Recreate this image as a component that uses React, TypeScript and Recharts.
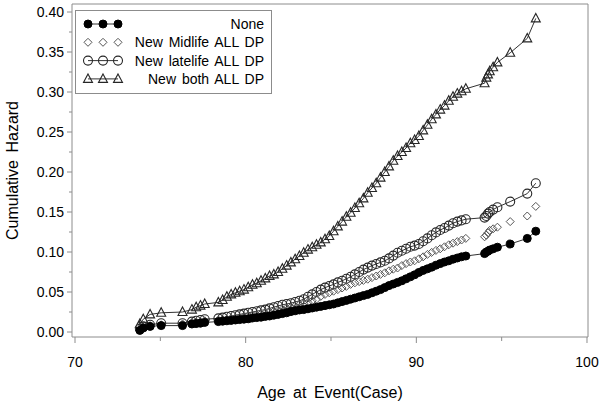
import React from 'react';
import { LineChart, Line, XAxis, YAxis, ReferenceArea } from 'recharts';

// event ages (shared by the four groups)
const ages = [
  73.8, 74.0, 74.4, 75.05, 76.3, 76.85, 77.1, 77.35, 77.6,
  78.4, 78.65, 78.9, 79.15, 79.4, 79.65, 79.9, 80.15, 80.4, 80.65,
  80.9, 81.15, 81.4, 81.65, 81.9, 82.15, 82.4, 82.65, 82.9, 83.15,
  83.4, 83.65, 83.9, 84.15, 84.4, 84.65, 84.9, 85.15, 85.4, 85.65,
  85.9, 86.15, 86.4, 86.65, 86.9, 87.15, 87.4, 87.65, 87.9, 88.15,
  88.4, 88.65, 88.9, 89.15, 89.4, 89.65, 89.9, 90.15, 90.4, 90.65,
  90.9, 91.15, 91.4, 91.65, 91.9, 92.15, 92.4, 92.65, 92.9,
  94.0, 94.1, 94.2, 94.3, 94.5, 94.75, 95.5, 96.5, 97.0,
];

const noneHaz = [
  0.002, 0.005, 0.007, 0.008, 0.008, 0.010, 0.0105, 0.011, 0.012,
  0.013, 0.0135, 0.014, 0.0145, 0.015, 0.0155, 0.016, 0.0165, 0.0175, 0.018,
  0.0185, 0.0195, 0.020, 0.021, 0.022, 0.023, 0.024, 0.0255, 0.0265, 0.0275,
  0.028, 0.029, 0.030, 0.031, 0.032, 0.033, 0.034, 0.035, 0.0365, 0.038,
  0.0395, 0.041, 0.0425, 0.044, 0.0455, 0.047, 0.049, 0.051, 0.053, 0.0555,
  0.058, 0.060, 0.062, 0.064, 0.0665, 0.069, 0.0715, 0.0745, 0.077, 0.079,
  0.081, 0.0835, 0.0855, 0.0875, 0.089, 0.091, 0.0925, 0.094, 0.095,
  0.098, 0.100, 0.101, 0.1025, 0.104, 0.106, 0.110, 0.117, 0.126,
];

const midHaz = [
  0.003, 0.006, 0.008, 0.009, 0.010, 0.012, 0.0125, 0.013, 0.014,
  0.015, 0.0155, 0.016, 0.017, 0.0175, 0.018, 0.019, 0.020, 0.021, 0.0215,
  0.0225, 0.0235, 0.025, 0.026, 0.027, 0.0285, 0.030, 0.031, 0.0325, 0.034,
  0.0355, 0.037, 0.039, 0.041, 0.0445, 0.047, 0.049, 0.051, 0.053, 0.055,
  0.057, 0.0595, 0.0615, 0.063, 0.0645, 0.066, 0.068, 0.070, 0.072, 0.074,
  0.0765, 0.0785, 0.080, 0.083, 0.0855, 0.0875, 0.089, 0.0915, 0.094, 0.097,
  0.0995, 0.102, 0.104, 0.1065, 0.109, 0.111, 0.113, 0.115, 0.117,
  0.119, 0.121, 0.124, 0.127, 0.129, 0.131, 0.138, 0.145, 0.157,
];

const lateHaz = [
  0.004, 0.007, 0.009, 0.011, 0.011, 0.013, 0.014, 0.015, 0.016,
  0.017, 0.018, 0.019, 0.020, 0.021, 0.022, 0.023, 0.024, 0.025, 0.026,
  0.027, 0.028, 0.0295, 0.031, 0.0325, 0.034, 0.035, 0.036, 0.0375, 0.039,
  0.041, 0.044, 0.047, 0.050, 0.053, 0.0555, 0.0575, 0.0595, 0.062, 0.064,
  0.0665, 0.069, 0.072, 0.075, 0.078, 0.0805, 0.083, 0.085, 0.087, 0.089,
  0.092, 0.0955, 0.099, 0.1015, 0.104, 0.1065, 0.108, 0.110, 0.1135, 0.117,
  0.121, 0.1245, 0.1275, 0.130, 0.133, 0.136, 0.138, 0.1395, 0.141,
  0.143, 0.145, 0.148, 0.150, 0.153, 0.156, 0.163, 0.173, 0.186,
];

const bothHaz = [
  0.010, 0.016, 0.022, 0.024, 0.025, 0.028, 0.031, 0.033, 0.035,
  0.037, 0.040, 0.044, 0.047, 0.049, 0.051, 0.053, 0.056, 0.059, 0.061,
  0.064, 0.067, 0.070, 0.072, 0.075, 0.079, 0.083, 0.087, 0.091, 0.095,
  0.099, 0.103, 0.106, 0.109, 0.112, 0.116, 0.120, 0.126, 0.132, 0.138,
  0.144, 0.149, 0.155, 0.161, 0.167, 0.174, 0.180, 0.186, 0.193, 0.200,
  0.207, 0.214, 0.220, 0.225, 0.230, 0.236, 0.240, 0.245, 0.252, 0.259,
  0.266, 0.272, 0.278, 0.283, 0.289, 0.294, 0.298, 0.301, 0.304,
  0.311, 0.318, 0.322, 0.326, 0.331, 0.337, 0.349, 0.367, 0.392,
];

const xTicks = [70, 75, 80, 85, 90, 95, 100];
const xMajor = [70, 80, 90, 100];
const yTicks = [
  0, 0.025, 0.05, 0.075, 0.1, 0.125, 0.15, 0.175, 0.2,
  0.225, 0.25, 0.275, 0.3, 0.325, 0.35, 0.375, 0.4,
];

const data = ages.map((age, i) => ({
  age,
  none: noneHaz[i],
  mid: midHaz[i],
  late: lateHaz[i],
  both: bothHaz[i],
}));

const AXIS_GRAY = '#8c8c8c';
const LINE_COLOR = '#333';

type Kind = 'filled' | 'diamond' | 'circle' | 'triangle';

function marker(kind: Kind, cx: number, cy: number, key: string | number) {
  switch (kind) {
    case 'filled':
      return <circle key={key} cx={cx} cy={cy} r={4} fill="#000" stroke="#000" strokeWidth={1} />;
    case 'diamond':
      return (
        <path
          key={key}
          d={`M${cx},${cy - 4}L${cx + 4},${cy}L${cx},${cy + 4}L${cx - 4},${cy}Z`}
          fill="none"
          stroke="#555"
          strokeWidth={1}
        />
      );
    case 'circle':
      return <circle key={key} cx={cx} cy={cy} r={4.5} fill="none" stroke="#262626" strokeWidth={1.1} />;
    case 'triangle':
      return (
        <path
          key={key}
          d={`M${cx},${cy - 5}L${cx + 4.5},${cy + 3.5}L${cx - 4.5},${cy + 3.5}Z`}
          fill="none"
          stroke="#262626"
          strokeWidth={1.1}
        />
      );
  }
}

const dotOf = (kind: Kind) => (p: any) =>
  p.cx == null || p.cy == null ? <g key={`e${p.index}`} /> : marker(kind, p.cx, p.cy, `d${p.index}`);

const XTick = ({ x, y, payload }: any) => {
  const major = xMajor.includes(payload.value);
  return (
    <g>
      <line x1={x} y1={y} x2={x} y2={y + (major ? 6 : 4)} stroke={AXIS_GRAY} />
      {major && (
        <text x={x} y={y + 30} textAnchor="middle" fontSize={14} fill="#000">
          {payload.value}
        </text>
      )}
    </g>
  );
};

const YTick = ({ x, y, payload }: any) => {
  const major = Math.abs(payload.value * 20 - Math.round(payload.value * 20)) < 1e-6;
  return (
    <g>
      <line x1={x} y1={y} x2={x - (major ? 5 : 3)} y2={y} stroke={AXIS_GRAY} />
      {major && (
        <text x={x - 8} y={y + 5} textAnchor="end" fontSize={14} fill="#000">
          {payload.value.toFixed(2)}
        </text>
      )}
    </g>
  );
};

const legendRows: { kind: Kind; label: string; line: boolean }[] = [
  { kind: 'filled', label: 'None', line: true },
  { kind: 'diamond', label: 'New Midlife ALL DP', line: false },
  { kind: 'circle', label: 'New latelife ALL DP', line: true },
  { kind: 'triangle', label: 'New both ALL DP', line: true },
];

const LegendBox = () => (
  <svg
    width={197}
    height={84}
    style={{ position: 'absolute', left: 75, top: 10, display: 'block' }}
  >
    <rect x={0.5} y={0.5} width={196} height={83} fill="#fff" stroke={AXIS_GRAY} />
    {legendRows.map((r, i) => {
      const cy = 14 + i * 18.3;
      return (
        <g key={r.label}>
          {r.line && <line x1={13} y1={cy} x2={43} y2={cy} stroke={LINE_COLOR} />}
          {[13, 28, 43].map((cx) => marker(r.kind, cx, cy, `${r.label}${cx}`))}
          <text x={189} y={cy + 5} textAnchor="end" fontSize={14} fill="#000" style={{ wordSpacing: 2 }}>
            {r.label}
          </text>
        </g>
      );
    })}
  </svg>
);

const xDomain: [number, number] = [69.824, 100.059];
const yDomain: [number, number] = [-0.00625, 0.41];

export default function App() {
  return (
    <div
      style={{
        position: 'absolute',
        left: 0,
        top: 0,
        width: 601,
        height: 409,
        background: '#fff',
        fontFamily: '"Liberation Sans", Arial, sans-serif',
      }}
    >
      <LineChart width={601} height={409} data={data} margin={{ top: 4, right: 13, left: 0, bottom: 0 }}>
        <XAxis
          type="number"
          dataKey="age"
          domain={xDomain}
          allowDataOverflow
          ticks={xTicks}
          interval={0}
          tick={<XTick />}
          tickLine={false}
          axisLine={false}
          tickSize={0}
          tickMargin={0}
          height={72}
          label={{
            value: 'Age at Event(Case)',
            position: 'insideBottom',
            offset: 11,
            style: { fontSize: 16, fill: '#000', wordSpacing: 3 },
          }}
        />
        <YAxis
          type="number"
          domain={yDomain}
          allowDataOverflow
          ticks={yTicks}
          interval={0}
          tick={<YTick />}
          tickLine={false}
          axisLine={false}
          tickSize={0}
          tickMargin={0}
          width={72}
          label={{
            value: 'Cumulative Hazard',
            angle: -90,
            position: 'insideLeft',
            offset: 12,
            style: { fontSize: 16, fill: '#000', textAnchor: 'middle', wordSpacing: 3 },
          }}
        />
        <ReferenceArea
          x1={xDomain[0]}
          x2={xDomain[1]}
          y1={yDomain[0]}
          y2={yDomain[1]}
          fill="none"
          stroke={AXIS_GRAY}
          ifOverflow="visible"
        />
        <Line
          dataKey="both"
          stroke={LINE_COLOR}
          strokeWidth={1}
          dot={dotOf('triangle')}
          activeDot={false}
          isAnimationActive={false}
        />
        <Line
          dataKey="late"
          stroke={LINE_COLOR}
          strokeWidth={1}
          dot={dotOf('circle')}
          activeDot={false}
          isAnimationActive={false}
        />
        <Line
          dataKey="mid"
          stroke="none"
          dot={dotOf('diamond')}
          activeDot={false}
          isAnimationActive={false}
        />
        <Line
          dataKey="none"
          stroke={LINE_COLOR}
          strokeWidth={1}
          dot={dotOf('filled')}
          activeDot={false}
          isAnimationActive={false}
        />
      </LineChart>
      <LegendBox />
    </div>
  );
}
